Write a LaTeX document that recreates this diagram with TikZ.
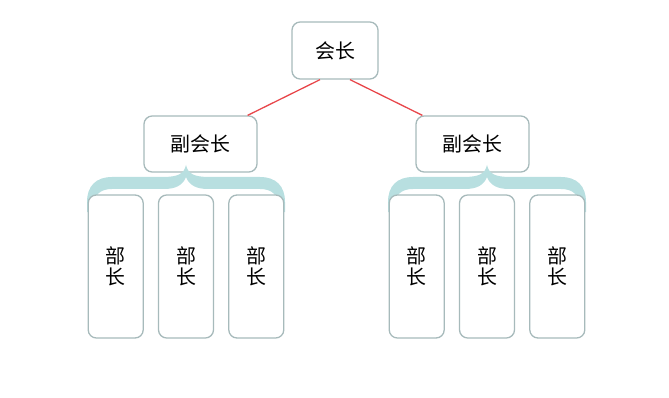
\documentclass[tikz,border=0pt]{standalone}
\usepackage{fontspec}
\setmainfont{Noto Sans CJK SC}
\usetikzlibrary{positioning,calc}
\definecolor{boxline}{RGB}{167,186,187}
\definecolor{bracefill}{RGB}{184,223,224}
\definecolor{linkred}{RGB}{232,70,74}

\begin{document}
\begin{tikzpicture}[
  x=0.03cm, y=-0.03cm,
  font=\fontsize{17}{17.5}\selectfont,
  chief/.style={rounded corners=7pt, draw=boxline, line width=1.1pt, fill=white,
                minimum width=2.58cm, minimum height=1.71cm, inner sep=0pt},
  vice/.style={chief, minimum width=3.39cm, minimum height=1.68cm},
  leaf/.style={chief, minimum width=1.65cm, minimum height=4.29cm, align=center},
  link/.style={draw=linkred, line width=1.1pt},
  groupbrace/.pic={
    \fill[bracefill] (0,-7) .. controls (-2,2) and (-8,5) .. (-24,5)
      -- (-74,5) .. controls (-90,5) and (-99,14) .. (-99,30) -- (-99,40)
      -- (-92,40) -- (-92,34) .. controls (-92,23) and (-86,17) .. (-74,17)
      -- (-22,17) .. controls (-10,17) and (-3,13) .. (0,5)
      .. controls (3,13) and (10,17) .. (22,17) -- (74,17)
      .. controls (86,17) and (92,23) .. (92,34) -- (92,40) -- (99,40)
      -- (99,30) .. controls (99,14) and (90,5) .. (74,5) -- (24,5)
      .. controls (8,5) and (2,2) .. (0,-7) -- cycle;
  },
]
\useasboundingbox (0,0) rectangle (669,398);

% --- top ---
\node[chief] (pres) at (335,50.5) {会长};

% --- vice presidents ---
\node[vice] (viceL) at (200.5,144) {副会长};
\node[vice] (viceR) at (472.5,144) {副会长};

% --- links ---
\draw[link] ($(pres.south)+(-15,0)$) -- ($(viceL.north east)+(-10,0)$);
\draw[link] ($(pres.south)+(15,0)$) -- ($(viceR.north west)+(7,0)$);

% --- braces ---
\pic at (186,172) {groupbrace};
\pic at (487,172) {groupbrace};

% --- department heads ---
\node[leaf] (depL2) at (186,266.5) {部\\长};
\node[leaf, left=0.42cm of depL2] (depL1) {部\\长};
\node[leaf, right=0.42cm of depL2] (depL3) {部\\长};
\node[leaf] (depR2) at (487,266.5) {部\\长};
\node[leaf, left=0.42cm of depR2] (depR1) {部\\长};
\node[leaf, right=0.42cm of depR2] (depR3) {部\\长};
\end{tikzpicture}
\end{document}
